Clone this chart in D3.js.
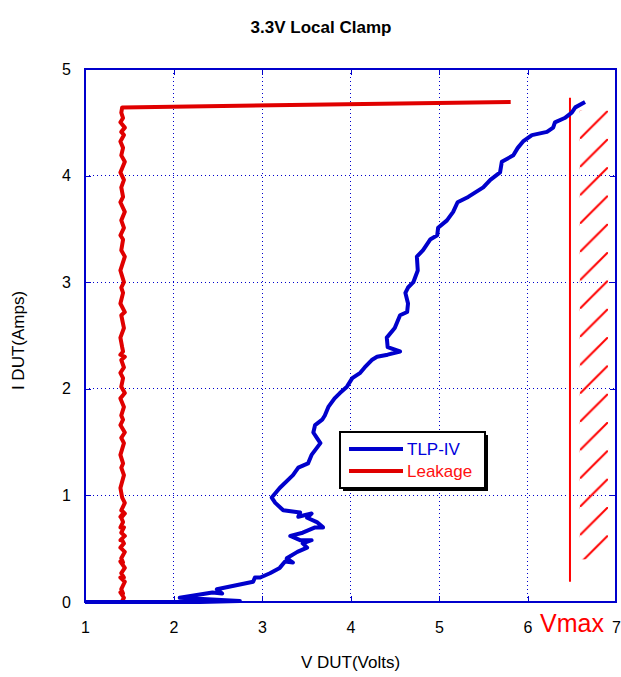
<!DOCTYPE html>
<html>
<head>
<meta charset="utf-8">
<script src="https://cdn.jsdelivr.net/npm/d3@7"></script>
<style>
  body { margin: 0; background: #fff; }
  text { font-family: "Liberation Sans", Arial, sans-serif; }
</style>
</head>
<body>
<svg id="chart" width="621" height="677"></svg>
<script>
// TLP I-V sweep: DUT voltage (V) and current (A) per pulse
const tlpV = [1.00, 1.73, 2.30, 2.75, 2.07, 2.44, 2.55, 2.49, 2.90, 2.92,
              2.98, 3.09, 3.20, 3.26, 3.35, 3.28, 3.40, 3.51, 3.46, 3.56,
              3.43, 3.32, 3.46, 3.60, 3.69, 3.62, 3.51, 3.56, 3.41, 3.43,
              3.24, 3.15, 3.11, 3.20, 3.35, 3.41, 3.52, 3.56, 3.66, 3.62,
              3.58, 3.60, 3.68, 3.71, 3.75, 3.82, 3.88, 3.96, 4.02, 4.11,
              4.16, 4.24, 4.30, 4.42, 4.56, 4.42, 4.41, 4.50, 4.56, 4.64,
              4.65, 4.62, 4.65, 4.71, 4.76, 4.75, 4.82, 4.90, 4.98, 4.99,
              5.09, 5.16, 5.21, 5.33, 5.50, 5.58, 5.69, 5.71, 5.84, 5.89,
              5.95, 6.05, 6.22, 6.29, 6.31, 6.42, 6.50, 6.54, 6.65];
const tlpI = [0.00, 0.00, 0.00, 0.01, 0.04, 0.09, 0.08, 0.12, 0.19, 0.23,
              0.23, 0.27, 0.32, 0.38, 0.37, 0.41, 0.47, 0.51, 0.55, 0.58,
              0.58, 0.62, 0.65, 0.70, 0.70, 0.75, 0.79, 0.83, 0.80, 0.84,
              0.86, 0.93, 0.98, 1.07, 1.19, 1.26, 1.30, 1.38, 1.49, 1.54,
              1.59, 1.66, 1.71, 1.75, 1.83, 1.91, 1.96, 2.02, 2.10, 2.15,
              2.20, 2.27, 2.30, 2.32, 2.35, 2.39, 2.48, 2.57, 2.69, 2.72,
              2.80, 2.90, 2.95, 3.00, 3.11, 3.24, 3.30, 3.40, 3.44, 3.51,
              3.58, 3.66, 3.75, 3.80, 3.89, 3.96, 4.03, 4.13, 4.19, 4.26,
              4.32, 4.38, 4.41, 4.45, 4.50, 4.54, 4.59, 4.64, 4.69];
// Leakage check after each pulse, plotted against the same pulse current
const leakV = [1.42, 1.41, 1.43, 1.42, 1.44, 1.40, 1.43, 1.41, 1.45, 1.40,
               1.44, 1.41, 1.45, 1.40, 1.43, 1.41, 1.45, 1.40, 1.44, 1.42,
               1.40, 1.45, 1.41, 1.44, 1.40, 1.43, 1.41, 1.45, 1.40, 1.44,
               1.41, 1.45, 1.42, 1.40, 1.44, 1.41, 1.43, 1.40, 1.44, 1.41,
               1.45, 1.40, 1.43, 1.41, 1.44, 1.40, 1.45, 1.41, 1.43, 1.40,
               1.44, 1.41, 1.45, 1.40, 1.43, 1.42, 1.40, 1.44, 1.41, 1.45,
               1.40, 1.43, 1.41, 1.44, 1.40, 1.45, 1.41, 1.43, 1.40, 1.44,
               1.41, 1.45, 1.40, 1.43, 1.41, 1.44, 1.40, 1.45, 1.41, 1.43,
               1.40, 1.44, 1.41, 1.45, 1.40, 1.43, 1.41, 1.42, 5.81];

const xTicks = [1, 2, 3, 4, 5, 6, 7];
const yTicks = [0, 1, 2, 3, 4, 5];
const xDomain = [1, 7];
const yDomain = [0, 5];

// Maximum allowed voltage marker and its hatched forbidden zone
const vmax = 6.48;
const vmaxSpanI = [0.19, 4.73];
const hatchV = [6.59, 6.91];
const hatchI = [0.40, 4.61];

const svg = d3.select("#chart");
const plot = { left: 85, top: 69, right: 616, bottom: 602 };

const x = d3.scaleLinear().domain(xDomain).range([plot.left, plot.right]);
const y = d3.scaleLinear().domain(yDomain).range([plot.bottom, plot.top]);

const BLUE = "#0000cc";

// Title
svg.append("text")
  .attr("x", 321).attr("y", 33)
  .attr("text-anchor", "middle")
  .attr("font-size", 17).attr("font-weight", "bold")
  .attr("fill", "#000")
  .text("3.3V Local Clamp");

// Dotted grid
const grid = svg.append("g").attr("stroke", BLUE).attr("stroke-width", 1)
  .attr("stroke-dasharray", "1,3").attr("shape-rendering", "crispEdges");
grid.selectAll("line.v").data(xTicks.filter(t => t > xDomain[0] && t < xDomain[1]))
  .join("line").attr("class", "v")
  .attr("x1", d => x(d)).attr("x2", d => x(d))
  .attr("y1", plot.top).attr("y2", plot.bottom);
grid.selectAll("line.h").data(yTicks.filter(t => t > yDomain[0] && t < yDomain[1]))
  .join("line").attr("class", "h")
  .attr("y1", d => y(d)).attr("y2", d => y(d))
  .attr("x1", plot.left).attr("x2", plot.right);

// Axes with inward ticks
const tickLen = 6;
const axB = svg.append("g").attr("transform", `translate(0,${plot.bottom})`)
  .call(d3.axisBottom(x).tickValues(xTicks).tickSizeInner(-tickLen).tickSizeOuter(0).tickPadding(20).tickFormat(d3.format("d")));
const axT = svg.append("g").attr("transform", `translate(0,${plot.top})`)
  .call(d3.axisTop(x).tickValues(xTicks).tickSizeInner(-tickLen).tickSizeOuter(0).tickFormat(""));
const axL = svg.append("g").attr("transform", `translate(${plot.left},0)`)
  .call(d3.axisLeft(y).tickValues(yTicks).tickSizeInner(-tickLen).tickSizeOuter(0).tickPadding(14).tickFormat(d3.format("d")));
const axR = svg.append("g").attr("transform", `translate(${plot.right},0)`)
  .call(d3.axisRight(y).tickValues(yTicks).tickSizeInner(-tickLen).tickSizeOuter(0).tickFormat(""));
[axB, axT, axL, axR].forEach(a => {
  a.select(".domain").remove();
  a.selectAll(".tick line").attr("stroke", BLUE).attr("shape-rendering", "crispEdges");
  a.selectAll(".tick text").attr("font-size", 16).attr("fill", "#000")
    .attr("font-family", "'Liberation Sans', Arial, sans-serif");
});

// Frame
svg.append("rect")
  .attr("x", plot.left).attr("y", plot.top)
  .attr("width", plot.right - plot.left).attr("height", plot.bottom - plot.top)
  .attr("fill", "none").attr("stroke", BLUE).attr("stroke-width", 1.3)
  .attr("shape-rendering", "crispEdges");

// Axis titles
svg.append("text")
  .attr("x", (plot.left + plot.right) / 2).attr("y", 668)
  .attr("text-anchor", "middle").attr("font-size", 17).attr("fill", "#000")
  .text("V DUT(Volts)");
svg.append("text")
  .attr("transform", `translate(24,${(plot.top + plot.bottom) / 2 + 5}) rotate(-90)`)
  .attr("text-anchor", "middle").attr("font-size", 17).attr("fill", "#000")
  .text("I DUT(Amps)");

// Vmax label between the last two x ticks
svg.append("text")
  .attr("x", x(vmax) + 2).attr("y", 632)
  .attr("text-anchor", "middle").attr("font-size", 25).attr("fill", "#ff0000")
  .text("Vmax");

// Hatched zone beyond Vmax
const hx0 = x(hatchV[0]), hx1 = x(hatchV[1]);
const hy0 = y(hatchI[1]), hy1 = y(hatchI[0]);
const step = hx1 - hx0;
const defs = svg.append("defs");
const pat = defs.append("pattern").attr("id", "hatch")
  .attr("patternUnits", "userSpaceOnUse")
  .attr("x", hx0).attr("y", hy0)
  .attr("width", step).attr("height", step);
pat.append("line")
  .attr("x1", 0).attr("y1", step).attr("x2", step).attr("y2", 0)
  .attr("stroke", "#ff0000").attr("stroke-width", 2);
svg.append("rect")
  .attr("x", hx0).attr("y", hy0)
  .attr("width", step).attr("height", hy1 - hy0)
  .attr("fill", "url(#hatch)");

// Vmax line
svg.append("line")
  .attr("x1", x(vmax)).attr("x2", x(vmax))
  .attr("y1", y(vmaxSpanI[0])).attr("y2", y(vmaxSpanI[1]))
  .attr("stroke", "#ff0000").attr("stroke-width", 2);

// Curves
const line = d3.line().x(d => x(d[0])).y(d => y(d[1]));
svg.append("path")
  .datum(leakV.map((v, i) => [v, tlpI[i]]))
  .attr("d", line).attr("fill", "none")
  .attr("stroke", "#e00000").attr("stroke-width", 4).attr("stroke-linejoin", "round");
svg.append("path")
  .datum(tlpV.map((v, i) => [v, tlpI[i]]))
  .attr("d", line).attr("fill", "none")
  .attr("stroke", BLUE).attr("stroke-width", 4).attr("stroke-linejoin", "round");

// Legend
const lg = svg.append("g").attr("transform", "translate(340,432)");
const lw = 145, lh = 56;
lg.append("rect").attr("x", 3).attr("y", 3).attr("width", lw).attr("height", lh).attr("fill", "#000");
lg.append("rect").attr("x", 0).attr("y", 0).attr("width", lw).attr("height", lh)
  .attr("fill", "#fff").attr("stroke", "#000").attr("stroke-width", 2);
const items = [
  { name: "TLP-IV", stroke: BLUE, text: "#0000dd" },
  { name: "Leakage", stroke: "#e00000", text: "#ff1010" }
];
items.forEach((it, k) => {
  const yy = 17 + k * 22;
  lg.append("line").attr("x1", 9).attr("x2", 63).attr("y1", yy).attr("y2", yy)
    .attr("stroke", it.stroke).attr("stroke-width", 4);
  lg.append("text").attr("x", 67).attr("y", yy + 6)
    .attr("font-size", 17).attr("fill", it.text).text(it.name);
});
</script>
</body>
</html>
